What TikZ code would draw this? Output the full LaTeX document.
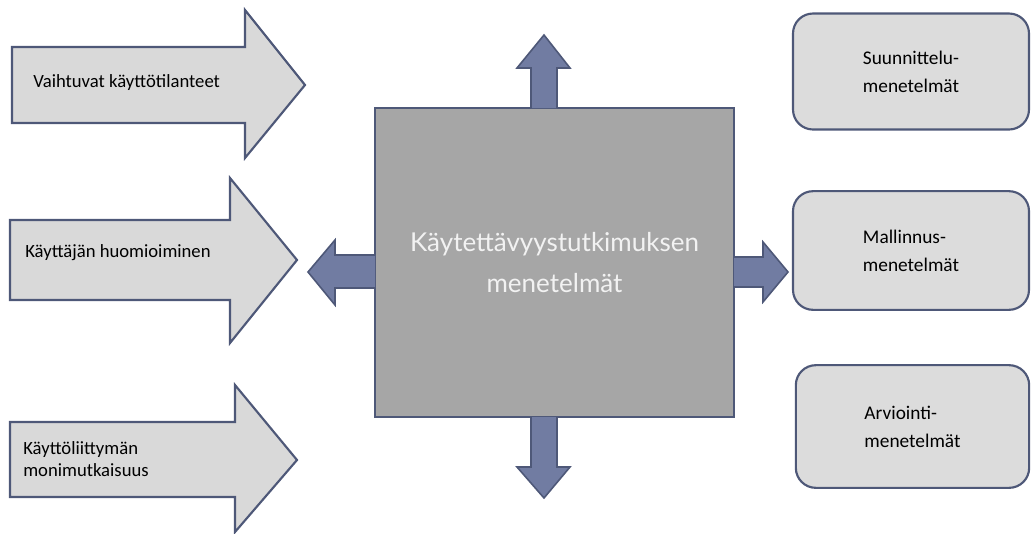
\documentclass[tikz,border=0pt]{standalone}
\usepackage{fontspec}
\setmainfont{Carlito}
\newfontfamily\mainboxfont{Lato}
\usetikzlibrary{positioning}
\definecolor{arrowgray}{HTML}{D9D9D9}
\definecolor{edgeblue}{HTML}{4E5878}
\definecolor{arrowblue}{HTML}{717CA2}
\definecolor{boxgray}{HTML}{A6A6A6}
\definecolor{methodgray}{HTML}{DCDCDC}
\tikzstyle{bigarrow} = [draw=edgeblue, line width=1.6pt, fill=arrowgray, line join=miter]
\tikzstyle{smallarrow} = [draw=edgeblue, line width=1.2pt, fill=arrowblue, line join=miter]
\tikzstyle{label} = [anchor=west, align=left, inner sep=0pt, font={\fontsize{14}{16.5}\selectfont}]
\tikzstyle{method} = [rectangle, rounded corners=15pt, draw=edgeblue, line width=1.6pt, fill=methodgray, minimum width=177pt, align=left, font={\fontsize{14.5}{21}\selectfont}]
\tikzstyle{mainbox} = [rectangle, draw=edgeblue, line width=1.6pt, fill=boxgray, minimum width=269pt, minimum height=231.5pt, align=center, text=white!95!black, font={\mainboxfont\fontsize{19.5}{31}\selectfont}]

\begin{document}
\begin{tikzpicture}[x=0.75pt, y=-0.75pt]
    \useasboundingbox (0,0) rectangle (1033,533);
    % input arrows on the left
    \draw [bigarrow] (12,47) -- (245,47) -- (245,10) -- (305,85) -- (245,158) -- (245,123) -- (12,123) -- cycle;
    \draw [bigarrow] (10,220) -- (230,220) -- (230,178) -- (297,260) -- (230,343) -- (230,300) -- (10,300) -- cycle;
    \draw [bigarrow] (10,422) -- (235,422) -- (235,385) -- (297,460) -- (235,532) -- (235,497) -- (10,497) -- cycle;
    \node (l1) [label] at (33,83) {Vaihtuvat käyttötilanteet};
    \node (l2) [label] at (25,253) {Käyttäjän huomioiminen};
    \node (l3) [label] at (23,459) {Käyttöliittymän\\monimutkaisuus};
    % methods
    \node (main) [mainbox] at (554.5,262.5) {Käytettävyystutkimuksen\\menetelmät};
    \node (m1) [method, minimum height=87pt] at (911,71.5) {Suunnittelu-\\menetelmät};
    \node (m2) [method, minimum height=89pt] at (911,250.5) {Mallinnus-\\menetelmät};
    \node (m3) [method, minimum height=92pt, minimum width=175pt] at (912.5,426.5) {Arviointi-\\menetelmät};
    % arrows out of the box
    \draw [smallarrow] (531,108) -- (531,68) -- (517,68) -- (544,35) -- (570,68) -- (557,68) -- (557,108);
    \draw [smallarrow] (531,417) -- (531,467) -- (517,467) -- (544,498) -- (570,467) -- (557,467) -- (557,417);
    \draw [smallarrow] (375,255) -- (335,255) -- (335,240) -- (308,272) -- (335,305) -- (335,288) -- (375,288);
    \draw [smallarrow] (734,257) -- (763,257) -- (763,242) -- (788,272) -- (763,302) -- (763,287) -- (734,287);
\end{tikzpicture}
\end{document}
